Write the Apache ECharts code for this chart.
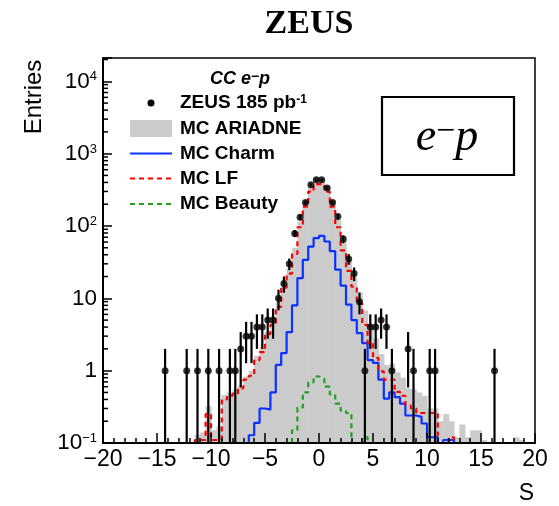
<!DOCTYPE html>
<html><head><meta charset="utf-8">
<script src="https://cdn.jsdelivr.net/npm/echarts@6/dist/echarts.min.js"></script>
<style>html,body{margin:0;padding:0;background:#fff}#c{width:559px;height:506px}</style>
</head><body><div id="c"></div>
<script>
// ---- axis setup ----
const X_MIN = -20, X_MAX = 20, BIN_W = 0.5;
const Y_MIN = 0.1, Y_MAX = 21000;
const X_TITLE = 'S';
const Y_TITLE = 'Entries';
const PLOT_TITLE = 'ZEUS';

// ---- histogram contents, 80 bins of width 0.5 from -20 to 20 ----
const DATA = [
  0,0,0,0,0,0,0,0,0,0,
  0,1,0,0,0,1,0,1,0,1,
  0,1,0,1,1,2,3,3,4,4,
  5,5,10,16,30,79,132,211,371,435,
  435,334,211,135,66,35,22,9,1,4,
  4,5,4,1,0,0,2,1,0,0,
  1,1,0,0,0,0,0,0,0,0,
  0,0,1,0,0,0,0,0,0,0
];
const ARIADNE = [
  0,0,0,0,0,0,0,0,0,0,
  0,0,0,0,0,0,0,0.13,0.14,0.32,
  0.15,0.17,0.46,0.5,0.55,0.62,0.83,1.0,1.6,2.1,
  3.5,4.8,9.0,16,26,50,115,220,350,448,
  453,360,230,121,61,32,19.5,12,6.8,3.8,
  2.8,1.7,1.2,1.25,0.95,0.8,0.57,0.55,0.5,0.45,
  0.3,0.3,0.2,0.25,0.2,0.12,0.18,0.12,0.15,0.15,
  0.11,0,0,0,0,0,0.12,0.11,0,0
];
const CHARM = [
  0,0,0,0,0,0,0,0,0,0,
  0,0,0,0,0,0,0,0,0,0,
  0,0,0,0,0,0,0,0.128,0.19,0.3,
  0.29,0.5,1.2,1.75,3.4,8.0,19,34,52,68,
  73,61,45,25,15,8.2,5.0,3.3,2.4,1.4,
  1.28,0.75,0.41,0.5,0.43,0.35,0.24,0.24,0.23,0.186,
  0.12,0.12,0,0.11,0.11,0,0,0,0,0,
  0,0,0,0,0,0,0,0,0,0
];
const LF = [
  0,0,0,0,0,0,0,0,0,0,
  0,0,0,0,0,0,0,0.11,0.11,0.25,
  0.11,0.11,0.4,0.45,0.48,0.57,0.75,0.85,1.4,1.8,
  3.2,4.3,7.6,14,22,41,96,185,298,380,
  380,298,185,96,46,24,14.5,8.5,4.3,2.4,
  1.5,0.98,0.75,0.75,0.51,0.45,0.33,0.3,0.26,0.26,
  0.26,0.26,0,0,0.12,0,0,0,0,0,
  0,0,0,0,0,0,0,0,0,0
];
const BEAUTY = [
  0,0,0,0,0,0,0,0,0,0,
  0,0,0,0,0,0,0,0,0,0,
  0,0,0,0,0,0,0,0,0,0,
  0,0,0,0,0,0.15,0.31,0.5,0.69,0.83,
  0.78,0.6,0.47,0.35,0.28,0.26,0,0,0.12,0,
  0,0,0,0,0,0,0,0,0,0,
  0,0,0,0,0,0,0,0,0,0,
  0,0,0,0,0,0,0,0,0,0
];
const LEGEND_HEADER = 'CC e';
const LEGEND_LABELS = ['ZEUS 185 pb', 'MC ARIADNE', 'MC Charm', 'MC LF', 'MC Beauty'];

// ---- helpers ----
const binLo = i => X_MIN + i * BIN_W;
const binC = i => X_MIN + (i + 0.5) * BIN_W;

function stepPoints(arr, fullFloor) {
  const pts = [];
  let on = false;
  arr.forEach((v, i) => {
    const a = binLo(i), b = a + BIN_W;
    if (v > 0 || fullFloor) {
      const y = Math.max(v, Y_MIN);
      if (!on && !fullFloor) pts.push([a, Y_MIN]);
      pts.push([a, y], [b, y]);
      on = true;
    } else {
      if (on) { pts.push([a, Y_MIN]); pts.push([a, '-']); }
      on = false;
    }
  });
  if (on && !fullFloor) pts.push([X_MAX, Y_MIN]);
  return pts;
}

const Y_MINOR = [];
for (let n = -1; n <= 4; n++) for (let k = 2; k <= 9; k++) {
  const v = k * Math.pow(10, n);
  if (v < Y_MAX) Y_MINOR.push(v);
}

const FONT = 'Liberation Sans';
const chart = echarts.init(document.getElementById('c'), null, {renderer: 'canvas'});

const option = {
  animation: false,
  backgroundColor: '#fff',
  grid: {left: 103, right: 24, top: 58, bottom: 63, show: true, borderColor: '#000', borderWidth: 1.5,
         containLabel: false, outerBoundsMode: 'none'},
  xAxis: {
    type: 'value', min: X_MIN, max: X_MAX, interval: 5, z: 10,
    axisLine: {show: true, onZero: false, lineStyle: {color: '#000', width: 2}},
    axisTick: {show: true, inside: true, length: 10, lineStyle: {color: '#000', width: 1.5}},
    minorTick: {show: true, splitNumber: 5, length: 5, lineStyle: {color: '#000', width: 1.5}},
    splitLine: {show: false}, minorSplitLine: {show: false},
    axisLabel: {margin: 5, color: '#000', fontSize: 23, fontFamily: FONT,
      formatter: v => String(v).replace('-', '\u2212')}
  },
  yAxis: {
    type: 'log', logBase: 10, min: Y_MIN, max: Y_MAX, z: 10,
    axisLine: {show: true, onZero: false, lineStyle: {color: '#000', width: 2}},
    axisTick: {show: true, inside: true, length: 9, lineStyle: {color: '#000', width: 1.5}},
    splitLine: {show: false}, minorTick: {show: false},
    axisLabel: {
      margin: 6, color: '#000',
      formatter: v => {
        const l = Math.log10(v), n = Math.round(l);
        if (Math.abs(l - n) > 1e-6) return '';
        if (n === 0) return '{b|1}';
        if (n === 1) return '{b|10}';
        return '{b|10}{s|' + (n < 0 ? '\u2212' + (-n) : n) + '}';
      },
      rich: {
        b: {fontSize: 22.5, lineHeight: 22, fontFamily: FONT, color: '#000'},
        s: {fontSize: 13, lineHeight: 9, verticalAlign: 'top', fontFamily: FONT, color: '#000'}
      }
    }
  },
  series: [
    { // MC ARIADNE filled histogram
      type: 'custom', z: 1, name: 'MC ARIADNE',
      data: ARIADNE.map((v, i) => [binLo(i), binLo(i) + BIN_W, v]).filter(d => d[2] > 0),
      encode: {x: [0, 1], y: 2},
      renderItem: (params, api) => {
        const p0 = api.coord([api.value(0), api.value(2)]);
        const p1 = api.coord([api.value(1), Y_MIN]);
        return {type: 'rect', shape: {x: p0[0], y: p0[1], width: p1[0] - p0[0] + 0.6, height: p1[1] - p0[1]},
                style: {fill: '#cbcbcb'}};
      }
    },
    { type: 'line', name: 'MC Charm', z: 3, data: stepPoints(CHARM, true), symbol: 'none',
      lineStyle: {color: '#0a32ff', width: 2.2}, connectNulls: false },
    { type: 'line', name: 'MC LF', z: 4, data: stepPoints(LF, false), symbol: 'none',
      lineStyle: {color: '#ff0000', width: 2.2, type: [5, 4]}, connectNulls: false },
    { type: 'line', name: 'MC Beauty', z: 4, data: stepPoints(BEAUTY, false), symbol: 'none',
      lineStyle: {color: '#22a022', width: 2.2, type: [5, 4]}, connectNulls: false },
    { // data error bars
      type: 'custom', z: 6, name: 'err',
      data: DATA.map((n, i) => [binC(i), n]).filter(d => d[1] > 0),
      encode: {x: 0, y: 1},
      renderItem: (params, api) => {
        const x = api.value(0), n = api.value(1), e = Math.sqrt(n);
        const p0 = api.coord([x, n + e]);
        const p1 = api.coord([x, Math.max(n - e, Y_MIN)]);
        return {type: 'line', shape: {x1: p0[0], y1: p0[1], x2: p1[0], y2: p1[1]},
                style: {stroke: '#000', lineWidth: 2.2}};
      }
    },
    { type: 'scatter', name: 'ZEUS 185 pb-1', z: 7,
      data: DATA.map((n, i) => [binC(i), n]).filter(d => d[1] > 0),
      symbol: 'circle', symbolSize: 7, itemStyle: {color: '#000'} },
    { // minor log ticks on the y axis
      type: 'custom', z: 11, name: 'minor',
      data: Y_MINOR.map(v => [X_MIN, v]), encode: {x: 0, y: 1},
      renderItem: (params, api) => {
        const p = api.coord([X_MIN, api.value(1)]);
        return {type: 'line', shape: {x1: p[0], y1: p[1], x2: p[0] + 5, y2: p[1]},
                style: {stroke: '#000', lineWidth: 1.5}};
      }
    }
  ],
  graphic: [
    {type: 'text', x: 309, y: 24, style: {text: PLOT_TITLE, fontSize: 34, fontWeight: 'bold',
      fontFamily: 'Liberation Serif', fill: '#000', align: 'center', verticalAlign: 'middle'}},
    {type: 'text', x: 34, y: 97, rotation: Math.PI / 2, style: {text: Y_TITLE, fontSize: 24,
      fontFamily: FONT, fill: '#000', align: 'center', verticalAlign: 'middle'}},
    {type: 'text', x: 534, y: 494, style: {text: X_TITLE, fontSize: 23, fontFamily: FONT,
      fill: '#000', align: 'right', verticalAlign: 'middle'}},
    // e-p box
    {type: 'rect', shape: {x: 382, y: 97, width: 132, height: 78},
      style: {fill: '#fff', stroke: '#000', lineWidth: 2.2}, z: 20},
    {type: 'text', x: 447, y: 138, z: 21, style: {
      text: '{e|e}{m|\u2212}{e|p}', align: 'center', verticalAlign: 'middle',
      rich: {
        e: {fontSize: 46, lineHeight: 46, fontStyle: 'italic', fontFamily: 'Liberation Serif', fill: '#000', color: '#000'},
        m: {fontSize: 34, lineHeight: 22, verticalAlign: 'top', fontFamily: 'Liberation Serif', fill: '#000', color: '#000'}
      }}},
    // legend header
    {type: 'text', x: 240, y: 79, z: 21, style: {
      text: '{h|' + LEGEND_HEADER + '}{s|\u2212}{h|p}', align: 'center', verticalAlign: 'middle',
      rich: {
        h: {fontSize: 18, lineHeight: 18, fontStyle: 'italic', fontWeight: 'bold', fontFamily: FONT, fill: '#000', color: '#000'},
        s: {fontSize: 14, lineHeight: 6, verticalAlign: 'top', fontWeight: 'bold', fontFamily: FONT, fill: '#000', color: '#000'}
      }}},
    // legend markers
    {type: 'circle', shape: {cx: 151, cy: 103, r: 3.5}, style: {fill: '#000'}, z: 21},
    {type: 'rect', shape: {x: 130, y: 120, width: 42, height: 17}, style: {fill: '#cbcbcb'}, z: 21},
    {type: 'line', shape: {x1: 130, y1: 153.5, x2: 172, y2: 153.5}, style: {stroke: '#0a32ff', lineWidth: 2.2}, z: 21},
    {type: 'line', shape: {x1: 130, y1: 178.5, x2: 172, y2: 178.5}, style: {stroke: '#ff0000', lineWidth: 2.2, lineDash: [5, 4]}, z: 21},
    {type: 'line', shape: {x1: 130, y1: 204, x2: 172, y2: 204}, style: {stroke: '#22a022', lineWidth: 2.2, lineDash: [5, 4]}, z: 21},
    // legend labels
    {type: 'text', x: 180, y: 103, z: 21, style: {text: '{t|' + LEGEND_LABELS[0] + '}{s|-1}', align: 'left', verticalAlign: 'middle',
      rich: {t: {fontSize: 19, lineHeight: 19, fontWeight: 'bold', fontFamily: FONT, color: '#000'},
             s: {fontSize: 12, lineHeight: 6, verticalAlign: 'top', fontWeight: 'bold', fontFamily: FONT, color: '#000'}}}},
    {type: 'text', x: 180, y: 128.5, z: 21, style: {text: LEGEND_LABELS[1], fontSize: 19, fontWeight: 'bold', fontFamily: FONT, fill: '#000', verticalAlign: 'middle'}},
    {type: 'text', x: 180, y: 153.5, z: 21, style: {text: LEGEND_LABELS[2], fontSize: 19, fontWeight: 'bold', fontFamily: FONT, fill: '#000', verticalAlign: 'middle'}},
    {type: 'text', x: 180, y: 178.5, z: 21, style: {text: LEGEND_LABELS[3], fontSize: 19, fontWeight: 'bold', fontFamily: FONT, fill: '#000', verticalAlign: 'middle'}},
    {type: 'text', x: 180, y: 204, z: 21, style: {text: LEGEND_LABELS[4], fontSize: 19, fontWeight: 'bold', fontFamily: FONT, fill: '#000', verticalAlign: 'middle'}}
  ]
};
chart.setOption(option);
</script>
</body></html>
